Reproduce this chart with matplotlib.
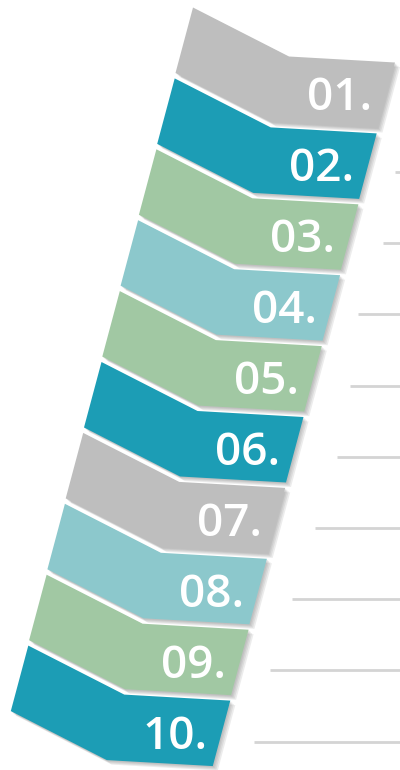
import matplotlib
matplotlib.use("Agg")
import matplotlib.pyplot as plt
from matplotlib.patches import Polygon
import numpy as np

# ---- data ----
labels = ["01.", "02.", "03.", "04.", "05.", "06.", "07.", "08.", "09.", "10."]
band_colors = ["#bebebe", "#1c9db5", "#a1c8a3", "#8cc8cc", "#a1c8a3",
               "#1c9db5", "#bebebe", "#8cc8cc", "#a1c8a3", "#1c9db5"]
line_y = [172, 243, 314, 386, 457, 528, 599, 670, 742]
line_x_start = [395, 383, 358, 350, 337, 315, 292, 270, 254]

# ---- layout ----
W, H = 400, 770
fig = plt.figure(figsize=(W / 100, H / 100), dpi=100)
ax = fig.add_axes([0, 0, 1, 1])
ax.set_xlim(0, W)
ax.set_ylim(H, 0)
ax.axis("off")

x_first, y_first = 193.0, 7.5
step_x, step_y = -18.3, 70.9
top_shape = np.array([[0, 0], [96, 49], [202, 55]])
depth = np.array([-17.5, 65.5])


def band_poly(i):
    origin = np.array([x_first + step_x * i, y_first + step_y * i])
    top = top_shape + origin
    bottom = (top + depth)[::-1]
    return np.vstack([top, bottom]), origin


# shadows first
for i in range(len(labels)):
    poly, _ = band_poly(i)
    for k, (dx, dy) in enumerate([(5.0, 4.5), (3.6, 3.4), (2.3, 2.2), (1.2, 1.2)]):
        ax.add_patch(Polygon(poly + np.array([dx, dy]), closed=True,
                             facecolor="#707070", edgecolor="none",
                             alpha=0.13, zorder=1))

# guide lines
for y, xs in zip(line_y, line_x_start):
    ax.plot([xs, W + 5], [y, y], color="#d4d4d4", lw=2.0, solid_capstyle="butt", zorder=0)

# bands + labels
for i, (lab, col) in enumerate(zip(labels, band_colors)):
    poly, origin = band_poly(i)
    ax.add_patch(Polygon(poly, closed=True, facecolor=col, edgecolor="none", zorder=2))
    ax.text(origin[0] + 179, origin[1] + 103, lab, color="white",
            fontsize=33, fontweight="semibold", family="Open Sans",
            ha="right", va="baseline", zorder=3)

fig.savefig("out.png", dpi=100, facecolor="white")
